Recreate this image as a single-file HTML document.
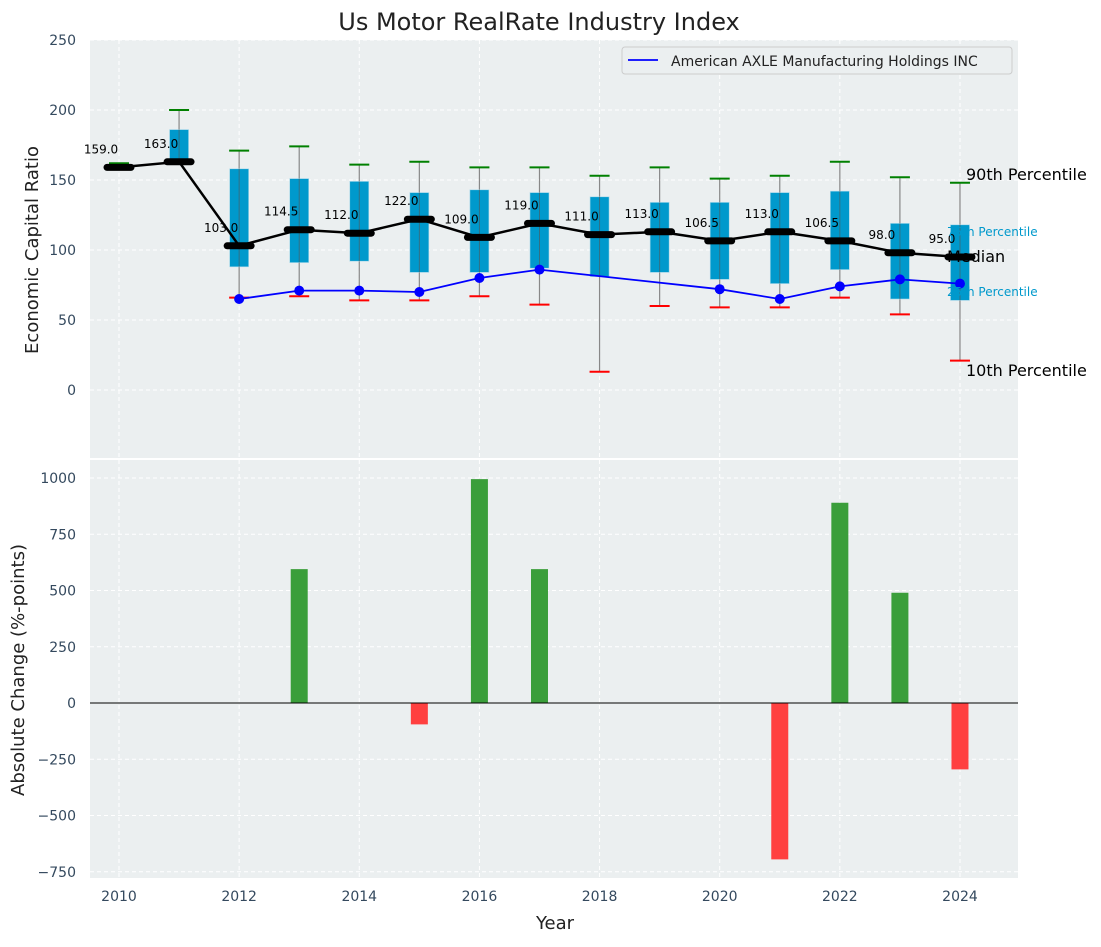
<!DOCTYPE html>
<html><head><meta charset="utf-8"><style>
body{margin:0;background:#fff;}
svg{font-family:"DejaVu Sans","Liberation Sans",sans-serif;}
.tk{fill:#34495e;font-size:14px;}
</style></head><body>
<svg id="c" width="1101" height="942" xmlns="http://www.w3.org/2000/svg"></svg>
<script>
const years=[2010,2011,2012,2013,2014,2015,2016,2017,2018,2019,2020,2021,2022,2023,2024];
const medians=[159,163,103,114.5,112,122,109,119,111,113,106.5,113,106.5,98,95];
const q1=[null,163,88,91,92,84,84,87,81,84,79,76,86,65,64];
const q3=[null,186,158,151,149,141,143,141,138,134,134,141,142,119,118];
const p10=[null,null,66,67,64,64,67,61,13,60,59,59,66,54,21];
const p90=[162,200,171,174,161,163,159,159,153,159,151,153,163,152,148];
const company=[null,null,65,71,71,70,80,86,null,null,72,65,74,79,76];
const changes=[0,0,0,595,0,-95,995,595,0,0,0,-695,890,490,-295];
const yTicks1=[0,50,100,150,200,250];
const yTicks2=[-750,-500,-250,0,250,500,750,1000];
const xTicks=[2010,2012,2014,2016,2018,2020,2022,2024];

const svg=document.getElementById('c');
const NS='http://www.w3.org/2000/svg';
function el(t,a,p){const e=document.createElementNS(NS,t);for(const k in a)e.setAttribute(k,a[k]);(p||svg).appendChild(e);return e;}
const X=y=>119+(y-2010)*60.07;
const Y1=v=>390-1.4*v;
const Y2=v=>703-0.225*v;
const L=90,R=1018;
const fmt=v=>v<0?'\u2212'+Math.abs(v):String(v);

let t=el('text',{x:539,y:30,'text-anchor':'middle','font-size':24,fill:'#222'});t.textContent='Us Motor RealRate Industry Index';


let bg1=el('rect',{x:L,y:40,width:R-L,height:418,fill:'#ebeff0'});

let bg2=el('rect',{x:L,y:460,width:R-L,height:418,fill:'#ebeff0'});


xTicks.forEach(y=>{
  el('line',{x1:X(y),x2:X(y),y1:40,y2:458,stroke:'#fff','stroke-dasharray':'4,3','stroke-width':1});
  el('line',{x1:X(y),x2:X(y),y1:460,y2:878,stroke:'#fff','stroke-dasharray':'4,3','stroke-width':1});
  const tx=el('text',{x:X(y),y:901,'text-anchor':'middle',class:'tk'});tx.textContent=y;
  
});
yTicks1.forEach(v=>{
  el('line',{x1:L,x2:R,y1:Y1(v),y2:Y1(v),stroke:'#fff','stroke-dasharray':'4,3'});
  const tx=el('text',{x:76,y:Y1(v)+5,'text-anchor':'end',class:'tk'});tx.textContent=fmt(v);
  
});
yTicks2.forEach(v=>{
  el('line',{x1:L,x2:R,y1:Y2(v),y2:Y2(v),stroke:'#fff','stroke-dasharray':'4,3'});
  const tx=el('text',{x:76,y:Y2(v)+5,'text-anchor':'end',class:'tk'});tx.textContent=fmt(v);
  
});

years.forEach((y,i)=>{
  const x=X(y);
  const top=p90[i], bot=p10[i]!=null?p10[i]:(q1[i]!=null?q1[i]:medians[i]);
  const w=el('line',{x1:x,x2:x,y1:Y1(top),y2:Y1(bot),stroke:'#888','stroke-width':1.2});
  
  if(q1[i]!=null){
    const b=el('rect',{x:x-9.5,y:Y1(q3[i]),width:19,height:Y1(q1[i])-Y1(q3[i]),fill:'#0099cc',stroke:'#a8d8ea','stroke-width':0.6});
    
    el('line',{x1:x,x2:x,y1:Y1(q3[i]),y2:Y1(q1[i]),stroke:'#555','stroke-width':1,opacity:0.6});
  }
  const c1=el('line',{x1:x-10,x2:x+10,y1:Y1(p90[i]),y2:Y1(p90[i]),stroke:'green','stroke-width':2});
  
  if(p10[i]!=null){const c2=el('line',{x1:x-10,x2:x+10,y1:Y1(p10[i]),y2:Y1(p10[i]),stroke:'red','stroke-width':2});
  }
});

let pts=years.map((y,i)=>X(y)+','+Y1(medians[i])).join(' ');
let ml=el('polyline',{points:pts,fill:'none',stroke:'#000','stroke-width':2.5});

years.forEach((y,i)=>{
  const m=el('line',{x1:X(y)-12,x2:X(y)+12,y1:Y1(medians[i]),y2:Y1(medians[i]),stroke:'#000','stroke-width':7,'stroke-linecap':'round'});
  
  const lt=el('text',{x:X(y)-18,y:Y1(medians[i])-14,'text-anchor':'middle','font-size':12,fill:'#000'});
  lt.textContent=medians[i].toFixed(1);
  
});

let cp=[];years.forEach((y,i)=>{if(company[i]!=null)cp.push([X(y),Y1(company[i])]);});
let cl=el('polyline',{points:cp.map(p=>p.join(',')).join(' '),fill:'none',stroke:'#0000ff','stroke-width':1.8});

cp.forEach(p=>{const d=el('circle',{cx:p[0],cy:p[1],r:5,fill:'#0000ff'});
  });

[[966,180,'90th Percentile',16,'#000'],[947,236,'75th Percentile',12,'#0099cc'],[947,262,'Median',16,'#000'],[947,296,'25th Percentile',12,'#0099cc'],[966,376,'10th Percentile',16,'#000']].forEach(a=>{
  const tx=el('text',{x:a[0],y:a[1],'font-size':a[3],fill:a[4]});tx.textContent=a[2];
  
});

let lg=el('g',{});
el('rect',{x:622,y:47,width:390,height:27,rx:3,fill:'#ebeff0',stroke:'#ccc'},lg);
el('line',{x1:628,x2:658,y1:60,y2:60,stroke:'#0000ff','stroke-width':1.8},lg);
let lt=el('text',{x:671,y:66,'font-size':14,fill:'#222'},lg);lt.textContent='American AXLE Manufacturing Holdings INC';

years.forEach((y,i)=>{
  const v=changes[i];if(!v)return;
  const b=el('rect',{x:X(y)-8.5,y:Math.min(Y2(v),Y2(0)),width:17,height:Math.abs(Y2(v)-Y2(0)),fill:v>0?'#3a9e3a':'#ff4040'});
  
});
el('line',{x1:L,x2:R,y1:Y2(0),y2:Y2(0),stroke:'#000','stroke-width':1});

let a1=el('text',{x:38,y:250,'text-anchor':'middle','font-size':18,fill:'#222',transform:'rotate(-90 38 250)'});a1.textContent='Economic Capital Ratio';

let a2=el('text',{x:24,y:670,'text-anchor':'middle','font-size':18,fill:'#222',transform:'rotate(-90 24 670)'});a2.textContent='Absolute Change (%-points)';

let a3=el('text',{x:555,y:929,'text-anchor':'middle','font-size':18,fill:'#222'});a3.textContent='Year';

</script>
</body></html>
